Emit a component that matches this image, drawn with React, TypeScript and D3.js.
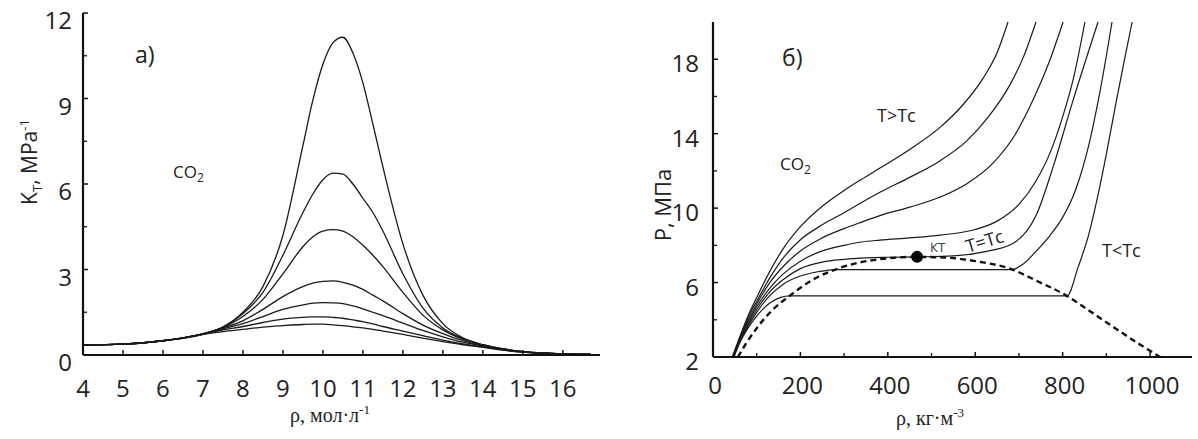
import React from "react";
import * as d3 from "d3";

// ---------- Panel a) data: K_T vs rho (mol/l) ----------
const rhoA = [4, 5, 6, 6.5, 7, 7.5, 8, 8.5, 9, 9.5, 9.75, 10, 10.25, 10.5, 10.75, 11, 11.25, 11.5, 12, 12.5, 13, 13.5, 14, 14.5, 15, 15.5, 16, 16.7];
const k1 = [0.35, 0.38, 0.5, 0.58, 0.72, 0.98, 1.5, 2.4, 4.2, 7.35, 8.95, 10.2, 10.95, 11.15, 10.6, 9.55, 8.1, 6.6, 3.9, 2.1, 1.1, 0.6, 0.36, 0.22, 0.12, 0.07, 0.04, 0.02];
const k2 = [0.35, 0.38, 0.5, 0.59, 0.73, 0.98, 1.45, 2.2, 3.5, 5.0, 5.65, 6.15, 6.38, 6.35, 6.0, 5.5, 5.0, 4.35, 2.85, 1.65, 0.95, 0.58, 0.36, 0.21, 0.12, 0.07, 0.04, 0.02];
const k3 = [0.35, 0.38, 0.5, 0.6, 0.74, 0.97, 1.35, 1.95, 2.85, 3.8, 4.15, 4.35, 4.4, 4.35, 4.15, 3.85, 3.5, 3.1, 2.2, 1.4, 0.88, 0.55, 0.35, 0.21, 0.12, 0.07, 0.04, 0.02];
const k4 = [0.35, 0.38, 0.5, 0.6, 0.75, 0.95, 1.2, 1.6, 2.05, 2.4, 2.52, 2.58, 2.6, 2.55, 2.45, 2.3, 2.1, 1.9, 1.45, 1.05, 0.75, 0.5, 0.33, 0.2, 0.12, 0.07, 0.04, 0.02];
const k5 = [0.35, 0.38, 0.5, 0.6, 0.74, 0.92, 1.1, 1.35, 1.6, 1.76, 1.82, 1.84, 1.83, 1.8, 1.72, 1.62, 1.5, 1.38, 1.12, 0.86, 0.64, 0.45, 0.31, 0.19, 0.11, 0.06, 0.035, 0.02];
const k6 = [0.35, 0.38, 0.5, 0.6, 0.73, 0.88, 1.0, 1.14, 1.26, 1.32, 1.34, 1.34, 1.32, 1.29, 1.23, 1.17, 1.09, 1.0, 0.84, 0.68, 0.52, 0.39, 0.29, 0.18, 0.1, 0.06, 0.03, 0.02];
const k7 = [0.35, 0.38, 0.5, 0.6, 0.72, 0.82, 0.9, 0.98, 1.03, 1.07, 1.08, 1.08, 1.06, 1.03, 0.99, 0.95, 0.9, 0.84, 0.72, 0.59, 0.47, 0.36, 0.27, 0.17, 0.1, 0.05, 0.03, 0.02];
const seriesA = [k1, k2, k3, k4, k5, k6, k7];
const xTicksA = [4, 5, 6, 7, 8, 9, 10, 11, 12, 13, 14, 15, 16];
const yTicksA = [0, 3, 6, 9, 12];
const yMinorA = [1.5, 4.5, 7.5, 10.5];

// ---------- Panel б) data: P vs rho (kg/m3), CO2 isotherms ----------
const iso1: [number, number][] = [[44, 2], [60, 3.0], [80, 4.2], [100, 5.2], [130, 6.6], [160, 7.8], [200, 9.0], [250, 10.1], [300, 10.95], [340, 11.55], [382, 12.15], [450, 13.15], [520, 14.35], [570, 15.5], [620, 17.05], [650, 18.35], [675, 20]];
const iso2: [number, number][] = [[45, 2], [60, 2.95], [80, 4.1], [100, 5.0], [130, 6.25], [160, 7.3], [200, 8.3], [250, 9.1], [300, 9.75], [340, 10.3], [382, 10.85], [450, 11.65], [520, 12.55], [580, 13.6], [630, 14.9], [680, 16.65], [710, 18.1], [739, 20]];
const iso3: [number, number][] = [[45, 2], [60, 2.9], [80, 3.95], [100, 4.85], [130, 6.0], [160, 6.85], [200, 7.7], [250, 8.4], [300, 8.9], [340, 9.25], [382, 9.6], [450, 10.05], [520, 10.6], [580, 11.3], [640, 12.4], [690, 13.9], [730, 15.7], [770, 17.9], [801, 20]];
const iso4: [number, number][] = [[46, 2], [60, 2.85], [80, 3.85], [100, 4.7], [130, 5.7], [160, 6.45], [200, 7.15], [250, 7.7], [300, 8.0], [340, 8.18], [382, 8.28], [450, 8.4], [520, 8.55], [600, 8.85], [650, 9.3], [700, 10.2], [740, 11.5], [770, 12.9], [800, 14.9], [825, 17.0], [851, 20]];
const iso5: [number, number][] = [[46, 2], [60, 2.8], [80, 3.75], [100, 4.55], [130, 5.5], [160, 6.15], [200, 6.75], [250, 7.1], [300, 7.25], [350, 7.33], [400, 7.36], [467, 7.38], [550, 7.43], [620, 7.65], [686, 8.1], [741, 9.7], [778, 12.2], [824, 15.8], [881, 20]];
const iso6: [number, number][] = [[47, 2], [60, 2.75], [80, 3.65], [100, 4.4], [130, 5.3], [160, 5.9], [200, 6.35], [240, 6.58], [280, 6.7], [685, 6.7], [710, 7.0], [740, 7.7], [770, 8.5], [800, 9.5], [830, 11.0], [860, 13.4], [885, 16.2], [913, 20]];
const iso7: [number, number][] = [[48, 2], [60, 2.7], [80, 3.55], [100, 4.2], [130, 4.9], [155, 5.2], [175, 5.28], [810, 5.28], [835, 6.8], [860, 8.6], [880, 10.6], [900, 12.9], [920, 15.4], [940, 17.8], [959, 20]];
const isotherms = [iso1, iso2, iso3, iso4, iso5, iso6, iso7];
const dome: [number, number][] = [[57, 2], [75, 2.7], [100, 3.55], [135, 4.5], [175, 5.28], [200, 5.72], [240, 6.3], [280, 6.7], [330, 7.05], [390, 7.28], [467, 7.38], [540, 7.33], [600, 7.15], [685, 6.7], [740, 6.1], [810, 5.28], [860, 4.5], [920, 3.55], [975, 2.7], [1023, 2]];
const critical: [number, number] = [467, 7.38];
const xTicksB = [0, 200, 400, 600, 800, 1000];
const xMinorB = [100, 300, 500, 700, 900];
const yTicksB = [2, 6, 10, 14, 18];
const yMinorB = [4, 8, 12, 16];

const SANS = "'Open Sans', 'DejaVu Sans', sans-serif";
const SERIF = "'Liberation Serif', 'DejaVu Serif', serif";

export default function App() {
  const xA = d3.scaleLinear().domain([4, 16.93]).range([83, 600]);
  const yA = d3.scaleLinear().domain([0, 12]).range([355, 13]);
  const xB = d3.scaleLinear().domain([0, 1096]).range([713, 1192]);
  const yB = d3.scaleLinear().domain([2, 20]).range([357, 22]);

  const lineA = d3
    .line<number>()
    .x((_, i) => xA(rhoA[i]))
    .y((d) => yA(d))
    .curve(d3.curveMonotoneX);
  const lineB = d3
    .line<[number, number]>()
    .x((d) => xB(d[0]))
    .y((d) => yB(d[1]))
    .curve(d3.curveMonotoneX);

  const axisStroke = "#111";
  const tickFs = 24;

  return (
    <svg
      width={1198}
      height={439}
      style={{ position: "absolute", left: 0, top: 0, background: "#fff" }}
      fontFamily={SANS}
    >
      <rect x={0} y={0} width={1198} height={439} fill="#fff" />
      {/* ================= Panel a ================= */}
      <g>
        {seriesA.map((s, i) => (
          <path key={i} d={lineA(s) || ""} fill="none" stroke="#1a1a1a" strokeWidth={1.3} />
        ))}
        <line x1={xA(4)} x2={600} y1={yA(0)} y2={yA(0)} stroke={axisStroke} strokeWidth={2.2} />
        <line x1={xA(4)} x2={xA(4)} y1={yA(0)} y2={yA(12)} stroke={axisStroke} strokeWidth={2.2} />
        {xTicksA.map((t) => (
          <g key={t}>
            <line x1={xA(t)} x2={xA(t)} y1={yA(0)} y2={yA(0) - 5} stroke={axisStroke} strokeWidth={1.5} />
            <text x={xA(t)} y={yA(0) + 42} textAnchor="middle" fontSize={tickFs} fill="#222">
              {t}
            </text>
          </g>
        ))}
        {yTicksA.map((t) => (
          <g key={t}>
            <line x1={xA(4)} x2={xA(4) + 5} y1={yA(t)} y2={yA(t)} stroke={axisStroke} strokeWidth={1.5} />
            <text x={72} y={yA(t) + 16} textAnchor="end" fontSize={tickFs} fill="#222">
              {t}
            </text>
          </g>
        ))}
        {yMinorA.map((t) => (
          <line key={t} x1={xA(4)} x2={xA(4) + 4} y1={yA(t)} y2={yA(t)} stroke={axisStroke} strokeWidth={1.3} />
        ))}
        <text x={135} y={63} fontSize={23} fill="#222">a)</text>
        <text x={173} y={178} fontSize={17} fill="#222">
          CO<tspan fontSize={12} dy={4}>2</tspan>
        </text>
        <text x={330} y={422} textAnchor="middle" fontFamily={SERIF} fontSize={20} fill="#222">
          ρ, мол·л<tspan fontSize={13} dy={-8}>-1</tspan>
        </text>
        <text transform="translate(37,162) rotate(-90)" textAnchor="middle" fontSize={21} fill="#222">
          K<tspan fontSize={13} dy={5}>T</tspan>
          <tspan dy={-5}>, MPa</tspan>
          <tspan fontSize={13} dy={-8}>-1</tspan>
        </text>
      </g>

      {/* ================= Panel б ================= */}
      <g>
        {isotherms.map((s, i) => (
          <path key={i} d={lineB(s) || ""} fill="none" stroke="#1a1a1a" strokeWidth={1.2} />
        ))}
        <path d={lineB(dome) || ""} fill="none" stroke="#111" strokeWidth={2.4} strokeDasharray="6,4" />
        <circle cx={xB(critical[0])} cy={yB(critical[1])} r={6} fill="#000" />
        <line x1={xB(0)} x2={1192} y1={yB(2)} y2={yB(2)} stroke={axisStroke} strokeWidth={2.2} />
        <line x1={xB(0)} x2={xB(0)} y1={yB(2)} y2={yB(20)} stroke={axisStroke} strokeWidth={2.2} />
        {xTicksB.map((t) => (
          <g key={t}>
            <line x1={xB(t)} x2={xB(t)} y1={yB(2)} y2={yB(2) - 5} stroke={axisStroke} strokeWidth={1.5} />
            <text x={xB(t) + 2} y={yB(2) + 37} textAnchor="middle" fontSize={tickFs} fill="#222">
              {t}
            </text>
          </g>
        ))}
        {xMinorB.map((t) => (
          <line key={t} x1={xB(t)} x2={xB(t)} y1={yB(2)} y2={yB(2) - 4} stroke={axisStroke} strokeWidth={1.3} />
        ))}
        {yTicksB.map((t) => (
          <g key={t}>
            <line x1={xB(0)} x2={xB(0) + 5} y1={yB(t)} y2={yB(t)} stroke={axisStroke} strokeWidth={1.5} />
            <text x={699} y={yB(t) + 13} textAnchor="end" fontSize={tickFs} fill="#222">
              {t}
            </text>
          </g>
        ))}
        {yMinorB.map((t) => (
          <line key={t} x1={xB(0)} x2={xB(0) + 4} y1={yB(t)} y2={yB(t)} stroke={axisStroke} strokeWidth={1.3} />
        ))}
        <text x={782} y={66} fontSize={23} fill="#222">б)</text>
        <text x={780} y={170} fontSize={17} fill="#222">
          CO<tspan fontSize={12} dy={4}>2</tspan>
        </text>
        <text x={877} y={122} fontSize={18} fill="#222">T&gt;Tc</text>
        <text x={1102} y={257} fontSize={18} fill="#222">T&lt;Tc</text>
        <text x={930} y={252} fontSize={13} fill="#2b3f3f">КТ</text>
        <text transform="translate(968,253) rotate(-17)" fontSize={18} fill="#222">T=Tc</text>
        <text x={930} y={425} textAnchor="middle" fontFamily={SERIF} fontSize={20} fill="#222">
          ρ, кг·м<tspan fontSize={13} dy={-8}>-3</tspan>
        </text>
        <text transform="translate(671,205) rotate(-90)" textAnchor="middle" fontSize={22} fill="#222">
          P, МПа
        </text>
      </g>
    </svg>
  );
}
